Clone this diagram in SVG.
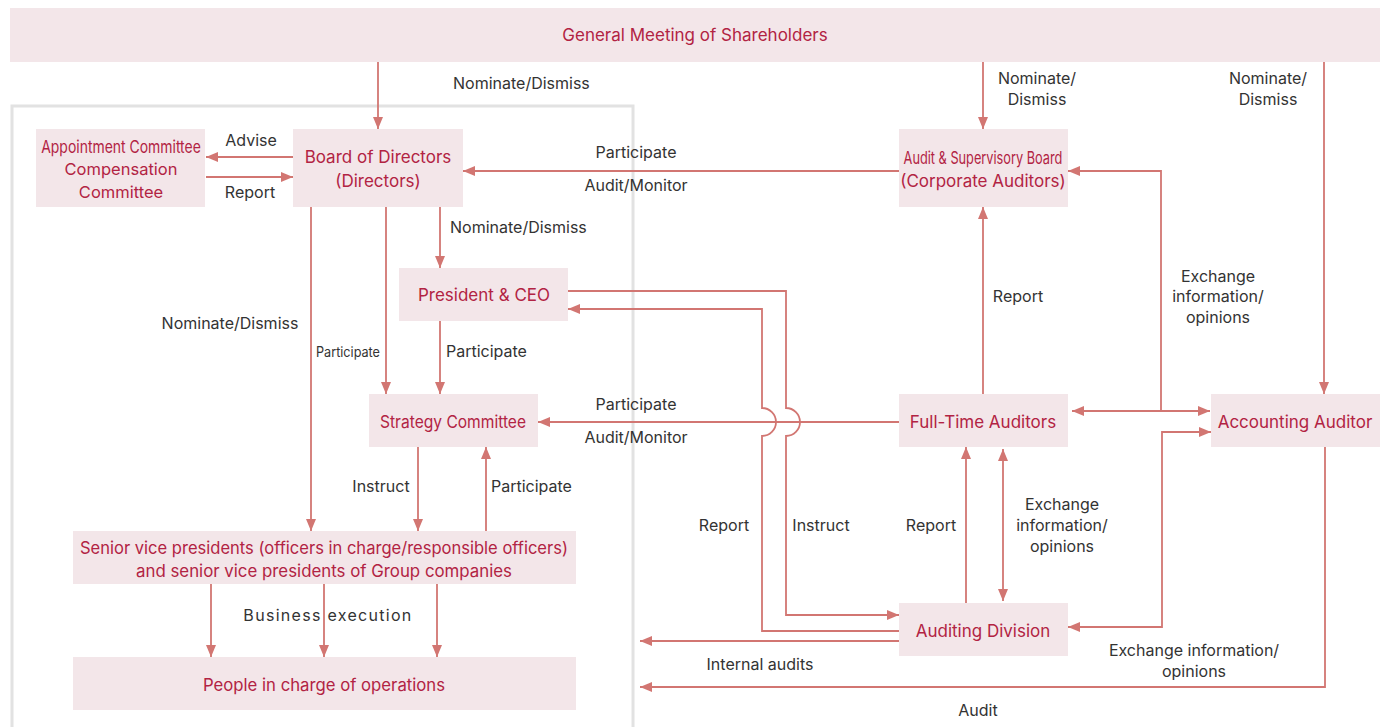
<svg xmlns="http://www.w3.org/2000/svg" width="1384" height="727" viewBox="0 0 1384 727">
<style>
.bg{fill:#ffffff}
.node{fill:#f3e6e9}
.nt{font-family:Inter,"Liberation Sans",sans-serif;font-size:17px;fill:#b22343;text-anchor:middle}
.lb{font-family:Inter,"Liberation Sans",sans-serif;font-size:16px;fill:#333333;text-anchor:middle}
.lbs{font-family:Inter,"Liberation Sans",sans-serif;font-size:16px;fill:#333333;text-anchor:start}
.ln{fill:none;stroke:#d27672;stroke-width:1.8}
.frame{fill:none;stroke:#e2e2e2;stroke-width:3}
</style>
<defs>
<marker id="ah" viewBox="0 0 12 10" refX="12" refY="5" markerWidth="12" markerHeight="10" markerUnits="userSpaceOnUse" orient="auto-start-reverse">
<path d="M0,0 L12,5 L0,10 z" fill="#d27672"/>
</marker>
</defs>
<rect class="bg" x="0" y="0" width="1384" height="727"/>
<rect class="frame" x="12" y="106" width="621" height="640"/>

<g id="connectors">
<path class="ln" d="M378,62 V129" marker-end="url(#ah)"/>
<text class="lbs" x="453" y="89">Nominate/Dismiss</text>
<path class="ln" d="M983,62 V129" marker-end="url(#ah)"/>
<text class="lb" x="1037" y="84">Nominate/</text>
<text class="lb" x="1037" y="105">Dismiss</text>
<path class="ln" d="M1324,62 V394" marker-end="url(#ah)"/>
<text class="lb" x="1268" y="84">Nominate/</text>
<text class="lb" x="1268" y="105">Dismiss</text>
<path class="ln" d="M293,157 H206" marker-end="url(#ah)"/>
<path class="ln" d="M206,177 H293" marker-end="url(#ah)"/>
<text class="lb" x="251" y="146">Advise</text>
<text class="lb" x="250" y="198">Report</text>
<path class="ln" d="M899,171 H463" marker-end="url(#ah)"/>
<text class="lb" x="636" y="158">Participate</text>
<text class="lb" x="636" y="191">Audit/Monitor</text>
<path class="ln" d="M440,207 V268" marker-end="url(#ah)"/>
<text class="lbs" x="450" y="233">Nominate/Dismiss</text>
<path class="ln" d="M386,207 V394" marker-end="url(#ah)"/>
<text class="lb" x="348" y="357" style="font-size:14px" textLength="64" lengthAdjust="spacingAndGlyphs">Participate</text>
<path class="ln" d="M311,207 V531" marker-end="url(#ah)"/>
<text class="lb" x="230" y="329">Nominate/Dismiss</text>
<path class="ln" d="M440,321 V394" marker-end="url(#ah)"/>
<text class="lbs" x="446" y="357">Participate</text>
<path class="ln" d="M418,447 V531" marker-end="url(#ah)"/>
<text class="lb" x="381" y="492">Instruct</text>
<path class="ln" d="M486,531 V447" marker-end="url(#ah)"/>
<text class="lbs" x="491" y="492">Participate</text>
<path class="ln" d="M211,584 V657" marker-end="url(#ah)"/>
<path class="ln" d="M324,584 V657" marker-end="url(#ah)"/>
<path class="ln" d="M437,584 V657" marker-end="url(#ah)"/>
<text class="lb" x="328" y="621" style="letter-spacing:1.3px">Business execution</text>
<path class="ln" d="M899,422 H538" marker-end="url(#ah)"/>
<text class="lb" x="636" y="410">Participate</text>
<text class="lb" x="636" y="443">Audit/Monitor</text>
<path class="ln" d="M568,291 H786 V408 A14,14 0 0 1 786,436 V615 H899" marker-end="url(#ah)"/>
<text class="lb" x="821" y="531">Instruct</text>
<path class="ln" d="M899,631 H762 V436 A14,14 0 0 0 762,408 V309 H568" marker-end="url(#ah)"/>
<text class="lb" x="724" y="531">Report</text>
<path class="ln" d="M899,641 H640" marker-end="url(#ah)"/>
<text class="lb" x="760" y="670">Internal audits</text>
<path class="ln" d="M1325,447 V687 H640" marker-end="url(#ah)"/>
<text class="lb" x="978" y="716">Audit</text>
<path class="ln" d="M983,394 V207" marker-end="url(#ah)"/>
<text class="lb" x="1018" y="302">Report</text>
<path class="ln" d="M1072,411 H1210" marker-start="url(#ah)" marker-end="url(#ah)"/>
<path class="ln" d="M1161,411 V171 H1068" marker-end="url(#ah)"/>
<text class="lb" x="1218" y="282">Exchange</text>
<text class="lb" x="1218" y="302">information/</text>
<text class="lb" x="1218" y="323">opinions</text>
<path class="ln" d="M966,603 V447" marker-end="url(#ah)"/>
<path class="ln" d="M1003,449 V601" marker-start="url(#ah)" marker-end="url(#ah)"/>
<text class="lb" x="931" y="531">Report</text>
<text class="lb" x="1062" y="510">Exchange</text>
<text class="lb" x="1062" y="531">information/</text>
<text class="lb" x="1062" y="552">opinions</text>
<path class="ln" d="M1211,432 H1162 V627 H1068" marker-start="url(#ah)" marker-end="url(#ah)"/>
<text class="lb" x="1194" y="656">Exchange information/</text>
<text class="lb" x="1194" y="677">opinions</text>
</g>

<g id="gms">
<rect class="node" x="10" y="8" width="1370" height="54"/>
<text class="nt" x="695" y="41">General Meeting of Shareholders</text>
</g>
<g id="appointment">
<rect class="node" x="36" y="129" width="169" height="78"/>
<text class="nt" transform="translate(121,153) scale(0.84,1)" x="0" y="0" textLength="190" lengthAdjust="spacingAndGlyphs">Appointment Committee</text>
<text class="nt" x="121" y="175" style="font-size:16.5px">Compensation</text>
<text class="nt" x="121" y="198" style="font-size:16.5px">Committee</text>
</g>
<g id="board">
<rect class="node" x="293" y="129" width="170" height="78"/>
<text class="nt" x="378" y="163">Board of Directors</text>
<text class="nt" x="378" y="187">(Directors)</text>
</g>
<g id="auditsup">
<rect class="node" x="899" y="129" width="169" height="78"/>
<text class="nt" transform="translate(983,164) scale(0.84,1)" x="0" y="0" textLength="189" lengthAdjust="spacingAndGlyphs">Audit &amp; Supervisory Board</text>
<text class="nt" x="983" y="187">(Corporate Auditors)</text>
</g>
<g id="president">
<rect class="node" x="399" y="268" width="169" height="53"/>
<text class="nt" x="484" y="301">President &amp; CEO</text>
</g>
<g id="strategy">
<rect class="node" x="369" y="394" width="169" height="53"/>
<text class="nt" x="453" y="428" textLength="146" lengthAdjust="spacingAndGlyphs">Strategy Committee</text>
</g>
<g id="fulltime">
<rect class="node" x="899" y="394" width="169" height="53"/>
<text class="nt" x="983" y="428">Full-Time Auditors</text>
</g>
<g id="accounting">
<rect class="node" x="1211" y="394" width="169" height="53"/>
<text class="nt" x="1295" y="428">Accounting Auditor</text>
</g>
<g id="senior">
<rect class="node" x="73" y="531" width="503" height="53"/>
<text class="nt" x="324" y="554" textLength="488" lengthAdjust="spacingAndGlyphs">Senior vice presidents (officers in charge/responsible officers)</text>
<text class="nt" x="324" y="577" textLength="376" lengthAdjust="spacingAndGlyphs">and senior vice presidents of Group companies</text>
</g>
<g id="people">
<rect class="node" x="73" y="657" width="503" height="53"/>
<text class="nt" x="324" y="691" textLength="242" lengthAdjust="spacingAndGlyphs">People in charge of operations</text>
</g>
<g id="auditingdiv">
<rect class="node" x="899" y="603" width="169" height="53"/>
<text class="nt" x="983" y="637">Auditing Division</text>
</g>
</svg>
